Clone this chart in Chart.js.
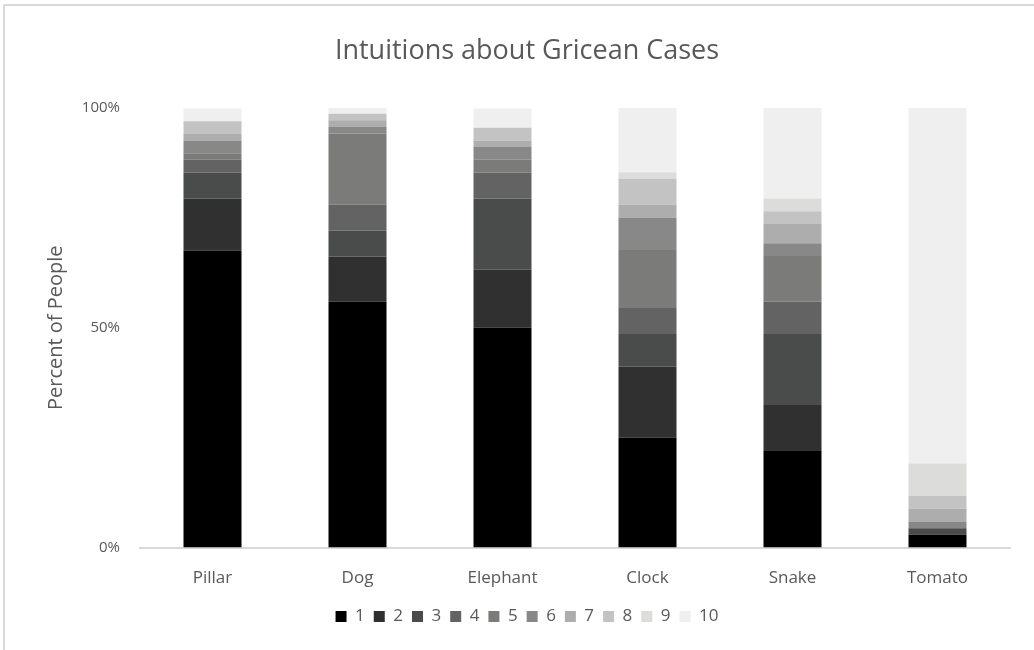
<!DOCTYPE html>
<html>
<head>
<meta charset="utf-8">
<title>Intuitions about Gricean Cases</title>
<script src="https://cdn.jsdelivr.net/npm/chart.js@4.4.1/dist/chart.umd.min.js"></script>
<style>
    html, body { margin: 0; padding: 0; background: #ffffff; }
    #wrap { position: relative; width: 1034px; height: 650px; }
</style>
</head>
<body>
<div id="wrap"><canvas id="gricean"></canvas></div>
<script>
// categories and tick labels
const cases = ['Pillar', 'Dog', 'Elephant', 'Clock', 'Snake', 'Tomato'];
const ratingLabels = ['1', '2', '3', '4', '5', '6', '7', '8', '9', '10'];
const yTicks = [0, 50, 100];

// percent of people giving each rating, per case
const rating1 = [67.6, 55.9, 50.0, 25.0, 22.1, 2.9];
const rating2 = [11.8, 10.3, 13.2, 16.2, 10.3, 0];
const rating3 = [5.9, 5.9, 16.2, 7.4, 16.2, 1.5];
const rating4 = [2.9, 5.9, 5.9, 5.9, 7.4, 0];
const rating5 = [1.5, 16.2, 2.9, 13.2, 10.3, 0];
const rating6 = [2.9, 1.5, 2.9, 7.4, 2.9, 1.5];
const rating7 = [1.5, 1.5, 1.5, 2.9, 4.4, 2.9];
const rating8 = [2.9, 1.5, 2.9, 5.9, 2.9, 2.9];
const rating9 = [0, 0, 0, 1.5, 2.9, 7.4];
const rating10 = [2.9, 1.5, 4.4, 14.7, 20.6, 80.9];

const ratingData = [rating1, rating2, rating3, rating4, rating5, rating6, rating7, rating8, rating9, rating10];
const greys = ['#000000', '#303030', '#4a4b4b', '#636363', '#7b7b7a', '#878887', '#adadad', '#c3c3c3', '#dcdcdb', '#eeefee'];

const textColor = '#595959';
const fontFamily = '"Open Sans", "Noto Sans", sans-serif';

// white background and the thin frame on the left and top
const framePlugin = {
    id: 'frame',
    beforeDraw: function(chart) {
        const c = chart.ctx;
        c.save();
        c.fillStyle = '#ffffff';
        c.fillRect(0, 0, chart.width, chart.height);
        c.strokeStyle = '#d9d9d9';
        c.lineWidth = 2;
        c.beginPath();
        c.moveTo(4, chart.height);
        c.lineTo(4, 5);
        c.lineTo(chart.width, 5);
        c.stroke();
        c.restore();
    }
};

const datasets = ratingData.map(function(values, i) {
    return {
        label: ratingLabels[i],
        data: values,
        backgroundColor: greys[i],
        borderWidth: 0,
        barPercentage: 0.4,
        categoryPercentage: 1.0
    };
});

const ctx = document.getElementById('gricean').getContext('2d');
const griceanChart = new Chart(ctx, {
    type: 'bar',
    data: {
        labels: cases,
        datasets: datasets
    },
    options: {
        responsive: true,
        maintainAspectRatio: false,
        animation: false,
        devicePixelRatio: 1,
        layout: {
            padding: { left: 44, right: 24, top: 0, bottom: 15 }
        },
        plugins: {
            title: {
                display: true,
                text: 'Intuitions about Gricean Cases',
                color: textColor,
                font: { family: fontFamily, size: 27, weight: 'normal' },
                padding: { top: 35, bottom: 40.6 }
            },
            legend: {
                display: true,
                position: 'bottom',
                labels: {
                    color: textColor,
                    font: { family: fontFamily, size: 17 },
                    boxWidth: 11,
                    boxHeight: 11,
                    padding: 9
                }
            },
            tooltip: { enabled: false }
        },
        scales: {
            x: {
                stacked: true,
                grid: { display: false, drawTicks: false },
                border: { display: true, color: '#d9d9d9', width: 2 },
                ticks: {
                    color: textColor,
                    font: { family: fontFamily, size: 17 },
                    padding: 20
                },
                afterFit: function(scale) {
                    scale.height = 51.5;
                }
            },
            y: {
                stacked: true,
                min: 0,
                max: 100,
                grid: { display: false, drawTicks: false },
                border: { display: false },
                afterBuildTicks: function(scale) {
                    scale.ticks = yTicks.map(function(v) { return { value: v }; });
                },
                ticks: {
                    color: textColor,
                    font: { family: fontFamily, size: 15 },
                    padding: 20,
                    callback: function(value) {
                        return value + '%';
                    }
                },
                title: {
                    display: true,
                    text: 'Percent of People',
                    color: textColor,
                    font: { family: fontFamily, size: 20 },
                    padding: { top: 0, bottom: 0 }
                },
                afterFit: function(scale) {
                    scale.width = 96;
                }
            }
        }
    },
    plugins: [framePlugin]
});
</script>
</body>
</html>
